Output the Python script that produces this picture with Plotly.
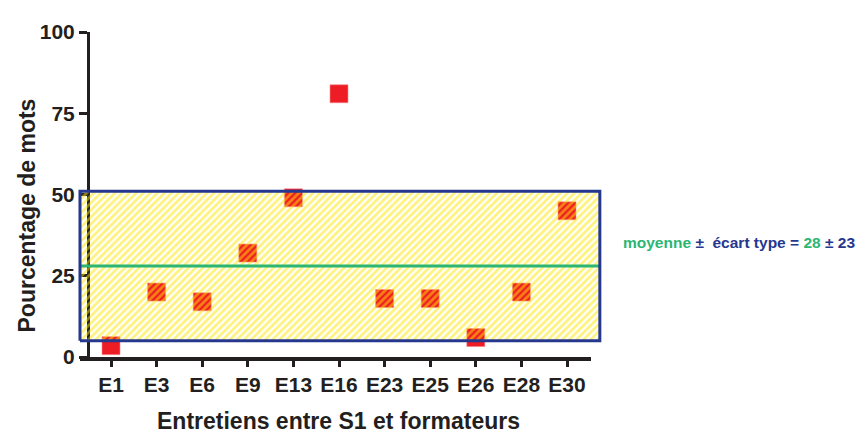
import plotly.graph_objects as go

categories = ["E1", "E3", "E6", "E9", "E13", "E16", "E23", "E25", "E26", "E28", "E30"]
values = [3.5, 20, 17, 32, 49, 81, 18, 18, 6, 20, 45]
mean_val = 28
sd_val = 23
y_ticks = [0, 25, 50, 75, 100]

n = len(categories)
xs = list(range(n))
bx0, bx1 = -0.68, n - 1 + 0.72
lo, hi = mean_val - sd_val, mean_val + sd_val

RED = "#EE1C25"
BLUE = "#26378F"
GREEN = "#2BB673"
YEL = "#FFE600"
INK = "#231F20"
FONT = "Liberation Sans, Arial, sans-serif"
NARROW = "Liberation Sans Narrow, Arial Narrow, Liberation Sans, sans-serif"

fig = go.Figure()

fig.add_trace(go.Scatter(
    x=xs, y=values, mode="markers",
    marker=dict(symbol="square", size=18, color=RED,
                line=dict(color="#F58A8A", width=0.6)),
    hoverinfo="skip", showlegend=False, cliponaxis=False))

fig.add_trace(go.Scatter(
    x=[bx0, bx1, bx1, bx0, bx0], y=[lo, lo, hi, hi, lo],
    mode="none", fill="toself", fillcolor="rgba(0,0,0,0)",
    fillpattern=dict(shape="/", fgcolor=YEL, bgcolor="rgba(0,0,0,0)",
                     size=5, solidity=0.55),
    hoverinfo="skip", showlegend=False))

fig.add_trace(go.Scatter(
    x=[bx0, bx1], y=[mean_val, mean_val], mode="lines",
    line=dict(color=GREEN, width=3), hoverinfo="skip", showlegend=False))

fig.add_trace(go.Scatter(
    x=[bx0, bx1, bx1, bx0, bx0], y=[lo, lo, hi, hi, lo], mode="lines",
    line=dict(color=BLUE, width=3), hoverinfo="skip", showlegend=False))

# page body has an 8px offset; reference pixel coords are compensated below
OFF = 8
W, H = 866 - OFF, 434 - OFF
Lr, Rr, Tr, Br = 78, 602, 24, 359          # plot box in reference pixels
L, T = Lr - OFF, Tr - OFF
R, B = 866 - Rr, 434 - Br
pw = Rr - Lr
ph = Br - Tr


def px(x):
    return (x - Lr) / pw


def py(y):
    return (Br - y) / ph


fig.update_layout(
    width=W, height=H,
    margin=dict(l=L, r=R, t=T, b=B),
    paper_bgcolor="white", plot_bgcolor="white",
    font=dict(family=FONT, color=INK),
    xaxis=dict(range=[(Lr - 111) / 45.6, (Rr - 111) / 45.6],
               tickvals=xs, ticktext=categories,
               showgrid=False, zeroline=False, showline=False,
               ticks="outside", ticklen=7, tickwidth=3, tickcolor=INK,
               tickfont=dict(size=21, family=NARROW, color=INK, weight="bold")),
    yaxis=dict(range=[-0.6, 100], tickvals=y_ticks,
               showgrid=False, zeroline=False, showline=True,
               linecolor=INK, linewidth=3, layer="below traces",
               anchor="free", position=px(88),
               ticks="outside", ticklen=8, tickwidth=3, tickcolor=INK,
               tickfont=dict(size=21, family=NARROW, color=INK, weight="bold")),
    shapes=[dict(type="line", xref="paper", yref="paper",
                 x0=px(80), x1=px(591), y0=0, y1=0,
                 line=dict(color=INK, width=4), layer="below")],
    annotations=[
        dict(text="<b>Pourcentage de mots</b>", textangle=-90,
             xref="paper", yref="paper", x=px(27), y=py(212),
             xanchor="center", yanchor="middle",
             showarrow=False, font=dict(size=23, family=FONT, color=INK)),
        dict(text="<b>Entretiens entre S1 et formateurs</b>",
             xref="paper", yref="paper", x=px(338), y=py(423),
             xanchor="center", yanchor="middle",
             showarrow=False, font=dict(size=23, family=FONT, color=INK)),
        dict(text=(f"<b><span style='color:{GREEN}'>moyenne</span> "
                   f"<span style='color:{BLUE}'>±  écart type = </span>"
                   f"<span style='color:{GREEN}'>{mean_val}</span>"
                   f"<span style='color:{BLUE}'> ± {sd_val}</span></b>"),
             xref="paper", yref="paper", x=px(621), y=py(240),
             xanchor="left", yanchor="middle", showarrow=False,
             font=dict(size=15.5, family=FONT)),
    ],
)

fig.write_html("out.html")
